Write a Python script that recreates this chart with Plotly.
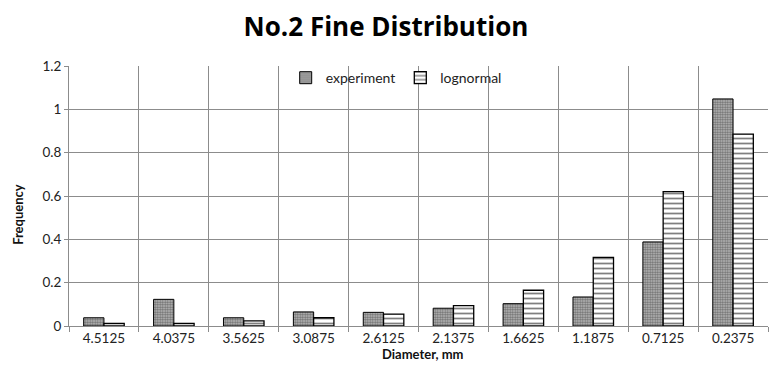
import plotly.graph_objects as go

diameters = ["4.5125", "4.0375", "3.5625", "3.0875", "2.6125",
             "2.1375", "1.6625", "1.1875", "0.7125", "0.2375"]
experiment = [0.038, 0.123, 0.038, 0.065, 0.063, 0.082, 0.103, 0.134, 0.388, 1.048]
lognormal = [0.012, 0.012, 0.024, 0.038, 0.055, 0.094, 0.165, 0.317, 0.620, 0.886]

font = "Lato, 'Open Sans', sans-serif"
grid = "#8c8c8c"

fig = go.Figure()
fig.add_trace(go.Bar(
    x=diameters, y=experiment, name="experiment",
    marker=dict(color="#a0a0a0", line=dict(color="black", width=1),
                pattern=dict(shape=".", fgcolor="#1a1a1a", bgcolor="#c2c2c2",
                             size=2.5, solidity=0.6)),
))
fig.add_trace(go.Bar(
    x=diameters, y=lognormal, name="lognormal",
    marker=dict(color="white", line=dict(color="black", width=1.3),
                pattern=dict(shape="-", fgcolor="black", bgcolor="white",
                             size=5, solidity=0.35)),
))

fig.update_layout(
    width=772, height=385,
    margin=dict(l=69, r=4, t=66, b=59),
    paper_bgcolor="white", plot_bgcolor="white",
    barmode="group", bargap=0.42, bargroupgap=0,
    showlegend=True,
    title=dict(text="<b>No.2 Fine Distribution</b>", x=0.5, xanchor="center",
               y=0.93, yanchor="middle",
               font=dict(family="'Open Sans', sans-serif", size=26, color="black")),
    font=dict(family=font, size=13, color="#222"),
    legend=dict(orientation="h", x=0.31, y=1.015, xanchor="left", yanchor="top",
                bgcolor="rgba(255,255,255,0)", font=dict(size=14),
                itemwidth=30, tracegroupgap=0),
    xaxis=dict(
        tickson="boundaries", showgrid=True, gridcolor=grid, gridwidth=1,
        ticks="outside", ticklen=5, tickcolor=grid,
        showline=True, linecolor=grid,
        tickfont=dict(size=13.5),
    ),
    yaxis=dict(
        range=[0, 1.2], showgrid=True, gridcolor=grid,
        showline=True, linecolor=grid, ticks="outside", ticklen=4,
        tickcolor=grid, zeroline=False,
        tickvals=[0, 0.2, 0.4, 0.6, 0.8, 1.0, 1.2],
        ticktext=["0", "0.2", "0.4", "0.6", "0.8", "1", "1.2"],
        tickfont=dict(size=13.5),
    ),
    annotations=[
        dict(text="<b>Diameter, mm</b>", xref="paper", yref="paper",
             x=0.507, y=-0.108, xanchor="center", yanchor="middle",
             showarrow=False, font=dict(size=13, color="#111")),
        dict(text="<b>Frequency</b>", xref="paper", yref="paper",
             x=-0.072, y=0.43, xanchor="center", yanchor="middle",
             textangle=-90, showarrow=False, font=dict(size=13, color="#111")),
    ],
)

fig.write_html("out.html")
